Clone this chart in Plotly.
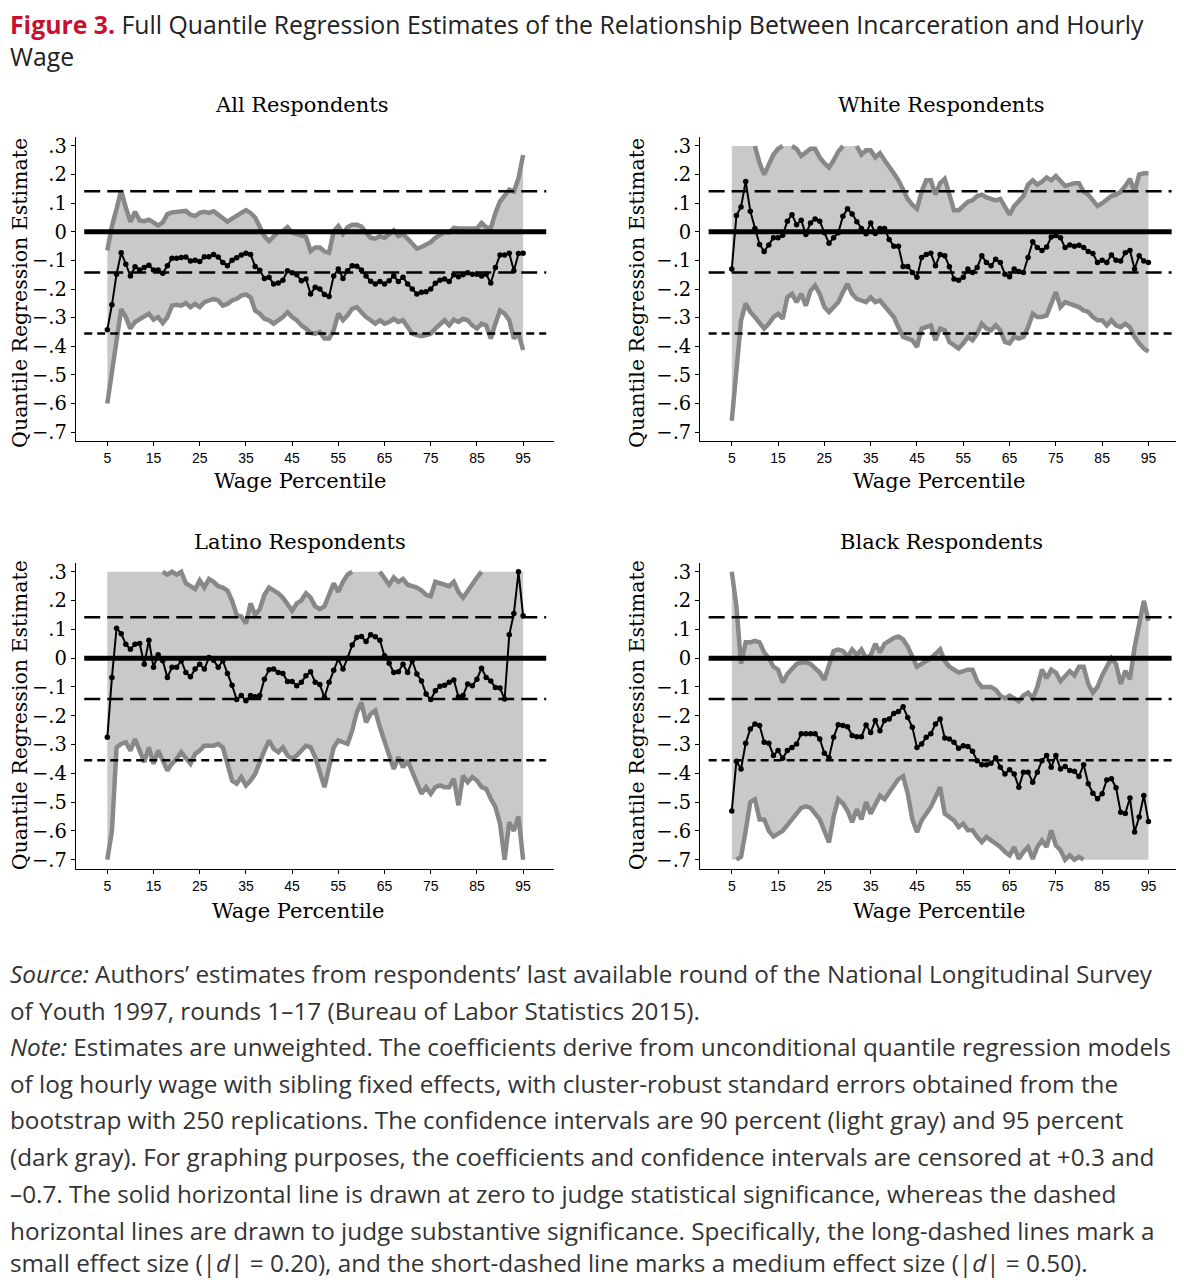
import plotly.graph_objects as go

# ---------------- data ----------------
percentile = list(range(5, 96))
x_ticks = [5, 15, 25, 35, 45, 55, 65, 75, 85, 95]
y_ticks = [0.3, 0.2, 0.1, 0.0, -0.1, -0.2, -0.3, -0.4, -0.5, -0.6, -0.7]
y_tick_text = [".3", ".2", ".1", "0", "\u2212.1", "\u2212.2", "\u2212.3", "\u2212.4",
               "\u2212.5", "\u2212.6", "\u2212.7"]

CENSOR_HI = 0.3
CENSOR_LO = -0.7
SMALL_EFFECT = 0.142     # |d| = 0.20
MEDIUM_EFFECT = -0.355   # |d| = 0.50

all_est = [-0.342, -0.255, -0.148, -0.073, -0.113, -0.154, -0.122, -0.133, -0.125, -0.117,
           -0.133, -0.133, -0.145, -0.119, -0.092, -0.092, -0.090, -0.088, -0.102, -0.099,
           -0.104, -0.087, -0.087, -0.079, -0.088, -0.107, -0.119, -0.099, -0.091, -0.081,
           -0.075, -0.079, -0.121, -0.134, -0.163, -0.159, -0.182, -0.179, -0.169, -0.136,
           -0.143, -0.150, -0.171, -0.165, -0.217, -0.194, -0.200, -0.219, -0.226, -0.154,
           -0.130, -0.163, -0.136, -0.119, -0.120, -0.133, -0.154, -0.173, -0.182, -0.174,
           -0.182, -0.171, -0.154, -0.174, -0.159, -0.182, -0.200, -0.217, -0.211, -0.209,
           -0.200, -0.180, -0.169, -0.165, -0.174, -0.150, -0.157, -0.150, -0.143, -0.148,
           -0.148, -0.154, -0.148, -0.179, -0.125, -0.081, -0.081, -0.075, -0.136, -0.076,
           -0.075]
all_hi = [-0.065, 0.020, 0.080, 0.145, 0.085, 0.035, 0.070, 0.040, 0.037, 0.042,
          0.033, 0.022, 0.033, 0.062, 0.068, 0.070, 0.073, 0.073, 0.060, 0.055,
          0.066, 0.070, 0.066, 0.072, 0.060, 0.046, 0.035, 0.046, 0.054, 0.066,
          0.076, 0.066, 0.050, 0.014, -0.015, -0.032, -0.018, 0.000, 0.002, 0.016,
          -0.003, -0.007, -0.013, -0.018, -0.067, -0.055, -0.055, -0.069, -0.073, 0.002,
          0.020, -0.007, 0.016, 0.025, 0.025, 0.018, -0.003, -0.021, -0.024, -0.015,
          -0.021, -0.009, 0.005, -0.015, -0.009, -0.024, -0.044, -0.059, -0.053, -0.044,
          -0.036, -0.021, -0.009, -0.001, -0.003, 0.014, 0.012, 0.012, 0.012, 0.014,
          0.012, 0.031, 0.016, 0.012, 0.066, 0.106, 0.127, 0.147, 0.141, 0.187,
          0.268]
all_lo = [-0.600, -0.490, -0.370, -0.270, -0.298, -0.338, -0.315, -0.304, -0.296, -0.286,
          -0.307, -0.298, -0.319, -0.298, -0.258, -0.255, -0.258, -0.249, -0.263, -0.252,
          -0.263, -0.246, -0.240, -0.234, -0.240, -0.258, -0.252, -0.240, -0.234, -0.223,
          -0.219, -0.229, -0.275, -0.286, -0.304, -0.309, -0.321, -0.309, -0.298, -0.281,
          -0.298, -0.309, -0.327, -0.338, -0.353, -0.356, -0.350, -0.373, -0.373, -0.344,
          -0.286, -0.309, -0.292, -0.269, -0.263, -0.281, -0.298, -0.309, -0.321, -0.309,
          -0.321, -0.315, -0.304, -0.315, -0.309, -0.333, -0.356, -0.361, -0.365, -0.361,
          -0.356, -0.338, -0.321, -0.309, -0.327, -0.307, -0.315, -0.304, -0.309, -0.327,
          -0.338, -0.321, -0.327, -0.373, -0.321, -0.275, -0.286, -0.309, -0.373, -0.356,
          -0.413]

white_est = [-0.130, 0.057, 0.087, 0.176, 0.072, 0.012, -0.044, -0.069, -0.046, -0.021,
             -0.021, -0.012, 0.037, 0.060, 0.025, 0.040, -0.009, 0.031, 0.045, 0.037,
             -0.003, -0.040, -0.021, -0.003, 0.054, 0.081, 0.062, 0.035, 0.012, -0.007,
             0.031, -0.006, 0.012, 0.012, -0.027, -0.050, -0.050, -0.121, -0.121, -0.142,
             -0.159, -0.090, -0.079, -0.075, -0.119, -0.079, -0.084, -0.122, -0.165, -0.169,
             -0.159, -0.130, -0.142, -0.125, -0.084, -0.107, -0.119, -0.096, -0.107, -0.148,
             -0.157, -0.130, -0.139, -0.142, -0.090, -0.035, -0.055, -0.065, -0.053, -0.018,
             -0.013, -0.021, -0.055, -0.046, -0.050, -0.047, -0.055, -0.069, -0.076, -0.107,
             -0.099, -0.107, -0.081, -0.099, -0.102, -0.073, -0.065, -0.130, -0.084, -0.102,
             -0.107]
white_hi = [0.300, 0.300, 0.300, 0.300, 0.300, 0.300, 0.240, 0.200, 0.240, 0.270,
            0.290, 0.300, 0.300, 0.300, 0.290, 0.265, 0.280, 0.290, 0.290, 0.260,
            0.240, 0.225, 0.250, 0.280, 0.300, 0.300, 0.300, 0.300, 0.270, 0.285,
            0.285, 0.260, 0.275, 0.250, 0.230, 0.205, 0.180, 0.150, 0.115, 0.095,
            0.080, 0.140, 0.180, 0.180, 0.130, 0.170, 0.185, 0.130, 0.075, 0.075,
            0.090, 0.105, 0.110, 0.125, 0.130, 0.120, 0.115, 0.110, 0.115, 0.085,
            0.060, 0.090, 0.105, 0.125, 0.165, 0.180, 0.165, 0.175, 0.190, 0.180,
            0.195, 0.180, 0.160, 0.165, 0.170, 0.170, 0.140, 0.130, 0.110, 0.090,
            0.100, 0.115, 0.125, 0.130, 0.140, 0.160, 0.185, 0.140, 0.200, 0.205,
            0.205]
white_lo = [-0.660, -0.480, -0.310, -0.250, -0.280, -0.298, -0.321, -0.338, -0.321, -0.298,
            -0.286, -0.304, -0.229, -0.217, -0.246, -0.217, -0.258, -0.206, -0.188, -0.217,
            -0.263, -0.280, -0.263, -0.246, -0.211, -0.182, -0.217, -0.234, -0.240, -0.246,
            -0.229, -0.246, -0.240, -0.258, -0.280, -0.298, -0.333, -0.367, -0.373, -0.379,
            -0.402, -0.338, -0.333, -0.327, -0.379, -0.338, -0.344, -0.385, -0.396, -0.408,
            -0.390, -0.367, -0.379, -0.356, -0.321, -0.338, -0.344, -0.327, -0.344, -0.385,
            -0.390, -0.367, -0.373, -0.367, -0.333, -0.286, -0.298, -0.298, -0.292, -0.252,
            -0.211, -0.263, -0.246, -0.252, -0.258, -0.263, -0.275, -0.280, -0.298, -0.309,
            -0.309, -0.327, -0.309, -0.327, -0.333, -0.321, -0.333, -0.367, -0.390, -0.408,
            -0.419]

latino_est = [-0.275, -0.067, 0.104, 0.085, 0.048, 0.031, 0.048, 0.051, -0.021, 0.062,
              -0.032, 0.012, -0.009, -0.067, -0.032, -0.032, -0.009, -0.050, -0.065, -0.038,
              -0.021, -0.038, 0.002, -0.007, -0.032, -0.009, -0.053, -0.094, -0.144, -0.130,
              -0.148, -0.130, -0.134, -0.130, -0.073, -0.040, -0.038, -0.050, -0.053, -0.081,
              -0.081, -0.096, -0.084, -0.061, -0.047, -0.084, -0.092, -0.136, -0.084, -0.042,
              -0.003, -0.038, 0.000, 0.046, 0.072, 0.075, 0.058, 0.081, 0.074, 0.062,
              0.008, -0.018, -0.050, -0.047, -0.021, -0.050, -0.009, -0.055, -0.079, -0.125,
              -0.144, -0.113, -0.098, -0.094, -0.084, -0.076, -0.134, -0.130, -0.090, -0.096,
              -0.073, -0.035, -0.067, -0.079, -0.102, -0.104, -0.142, 0.081, 0.155, 0.300,
              0.147]
latino_hi = [0.300, 0.300, 0.300, 0.300, 0.300, 0.300, 0.300, 0.300, 0.300, 0.300,
             0.300, 0.300, 0.300, 0.290, 0.300, 0.290, 0.300, 0.260, 0.250, 0.240,
             0.270, 0.245, 0.275, 0.265, 0.250, 0.245, 0.235, 0.200, 0.150, 0.145,
             0.120, 0.190, 0.150, 0.170, 0.220, 0.245, 0.235, 0.225, 0.210, 0.185,
             0.165, 0.190, 0.200, 0.225, 0.210, 0.180, 0.170, 0.180, 0.225, 0.260,
             0.230, 0.265, 0.290, 0.300, 0.300, 0.300, 0.300, 0.300, 0.300, 0.300,
             0.280, 0.255, 0.280, 0.265, 0.275, 0.255, 0.250, 0.245, 0.235, 0.220,
             0.215, 0.265, 0.260, 0.255, 0.250, 0.265, 0.230, 0.210, 0.235, 0.260,
             0.280, 0.300, 0.300, 0.300, 0.300, 0.300, 0.300, 0.300, 0.300, 0.300,
             0.300]
latino_lo = [-0.700, -0.600, -0.310, -0.298, -0.292, -0.321, -0.281, -0.321, -0.361, -0.310,
             -0.367, -0.321, -0.356, -0.390, -0.367, -0.350, -0.327, -0.350, -0.367, -0.333,
             -0.321, -0.304, -0.304, -0.304, -0.298, -0.310, -0.367, -0.425, -0.436, -0.413,
             -0.442, -0.425, -0.402, -0.356, -0.321, -0.286, -0.315, -0.327, -0.310, -0.338,
             -0.350, -0.338, -0.321, -0.304, -0.310, -0.344, -0.396, -0.448, -0.379, -0.310,
             -0.286, -0.292, -0.298, -0.252, -0.188, -0.154, -0.223, -0.194, -0.182, -0.240,
             -0.286, -0.338, -0.385, -0.344, -0.379, -0.356, -0.396, -0.436, -0.471, -0.448,
             -0.471, -0.448, -0.442, -0.448, -0.448, -0.419, -0.511, -0.408, -0.431, -0.413,
             -0.425, -0.448, -0.454, -0.488, -0.517, -0.575, -0.700, -0.570, -0.600, -0.550,
             -0.700]

black_est = [-0.531, -0.358, -0.385, -0.296, -0.246, -0.229, -0.234, -0.292, -0.296, -0.338,
             -0.321, -0.348, -0.321, -0.310, -0.298, -0.263, -0.263, -0.263, -0.263, -0.281,
             -0.330, -0.346, -0.275, -0.231, -0.234, -0.238, -0.269, -0.273, -0.273, -0.232,
             -0.258, -0.217, -0.252, -0.217, -0.211, -0.192, -0.185, -0.169, -0.206, -0.240,
             -0.310, -0.298, -0.275, -0.263, -0.229, -0.211, -0.277, -0.281, -0.292, -0.313,
             -0.304, -0.307, -0.323, -0.356, -0.370, -0.370, -0.365, -0.346, -0.379, -0.402,
             -0.388, -0.402, -0.448, -0.396, -0.396, -0.431, -0.396, -0.356, -0.338, -0.379,
             -0.338, -0.385, -0.376, -0.390, -0.393, -0.411, -0.370, -0.436, -0.469, -0.488,
             -0.471, -0.423, -0.419, -0.450, -0.535, -0.540, -0.486, -0.604, -0.552, -0.477,
             -0.567]
black_hi = [0.300, 0.180, -0.020, 0.055, 0.055, 0.060, 0.055, 0.020, 0.000, -0.030,
            -0.040, -0.085, -0.055, -0.040, -0.020, -0.015, -0.015, -0.020, -0.035, -0.050,
            -0.075, -0.030, 0.025, 0.030, 0.025, 0.005, 0.030, 0.010, 0.030, 0.000,
            0.010, 0.050, 0.020, 0.050, 0.060, 0.070, 0.075, 0.065, 0.040, 0.000,
            -0.030, -0.020, -0.010, 0.000, 0.015, 0.030, -0.010, -0.030, -0.040, -0.050,
            -0.045, -0.040, -0.040, -0.080, -0.100, -0.100, -0.100, -0.110, -0.130, -0.140,
            -0.130, -0.140, -0.150, -0.130, -0.120, -0.140, -0.100, -0.040, -0.070, -0.040,
            -0.050, -0.080, -0.060, -0.045, -0.060, -0.030, -0.030, -0.090, -0.120, -0.100,
            -0.060, -0.030, 0.000, -0.020, -0.090, -0.044, -0.073, 0.037, 0.129, 0.199,
            0.129]
black_lo = [-0.700, -0.700, -0.690, -0.600, -0.500, -0.490, -0.560, -0.560, -0.600, -0.620,
            -0.610, -0.600, -0.580, -0.560, -0.545, -0.520, -0.515, -0.520, -0.540, -0.560,
            -0.600, -0.640, -0.550, -0.490, -0.505, -0.530, -0.570, -0.525, -0.560, -0.500,
            -0.540, -0.510, -0.478, -0.490, -0.465, -0.440, -0.420, -0.410, -0.470, -0.560,
            -0.604, -0.564, -0.540, -0.517, -0.483, -0.448, -0.540, -0.552, -0.564, -0.587,
            -0.575, -0.598, -0.598, -0.621, -0.639, -0.621, -0.633, -0.644, -0.656, -0.673,
            -0.685, -0.656, -0.697, -0.673, -0.656, -0.697, -0.656, -0.633, -0.656, -0.598,
            -0.650, -0.667, -0.700, -0.685, -0.700, -0.690, -0.700, -0.700, -0.700, -0.700,
            -0.700, -0.700, -0.700, -0.700, -0.700, -0.700, -0.700, -0.700, -0.700, -0.700,
            -0.700]

panel_titles = ["All Respondents", "White Respondents", "Latino Respondents", "Black Respondents"]
y_title = "Quantile Regression Estimate"
x_title = "Wage Percentile"

# ---------------- layout helpers ----------------
PAGE_W, PAGE_H = 1184, 1280
OFF = 8                      # default page margin around the plot div
W, H = PAGE_W - OFF, PAGE_H - OFF
SERIF = "DejaVu Serif"
SANS = "Open Sans"
FILL = "#c9c9c9"
EDGE = "#888888"


def fx(p):
    return (p - OFF) / W


def fy(p):
    return 1 - (p - OFF) / H


panels = [
    dict(est=all_est, hi=all_hi, lo=all_lo, xpx=(75.9, 554.3), ypx=(135.6, 440.7),
         tx=302, ty=103, ax=20, ay=292, xty=481),
    dict(est=white_est, hi=white_hi, lo=white_lo, xpx=(700.3, 1179.7), ypx=(135.6, 440.7),
         tx=941, ty=103, ax=637, ay=292, xty=481),
    dict(est=latino_est, hi=latino_hi, lo=latino_lo, xpx=(75.9, 554.3), ypx=(563.0, 870.0),
         tx=300, ty=542, ax=20, ay=716, xty=913),
    dict(est=black_est, hi=black_hi, lo=black_lo, xpx=(700.3, 1179.7), ypx=(563.0, 870.0),
         tx=941, ty=542, ax=637, ay=716, xty=913),
]


def edge_mask(vals, censored):
    out = []
    n = len(vals)
    for i, v in enumerate(vals):
        keep = False
        for j in (i - 1, i, i + 1):
            if 0 <= j < n and abs(vals[j] - censored) > 1e-9:
                keep = True
        out.append(v if keep else None)
    return out


fig = go.Figure()
annotations = []
layout_axes = {}

for k, (pn, title) in enumerate(zip(panels, panel_titles)):
    idx = "" if k == 0 else str(k + 1)
    xa, ya = "x" + idx, "y" + idx
    common = dict(xaxis=xa, yaxis=ya, showlegend=False, hoverinfo="skip")

    fig.add_trace(go.Scatter(x=percentile, y=pn["lo"], mode="lines",
                             line=dict(width=0, color=FILL), **common))
    fig.add_trace(go.Scatter(x=percentile, y=pn["hi"], mode="lines", fill="tonexty",
                             fillcolor=FILL, line=dict(width=0, color=FILL), **common))
    fig.add_trace(go.Scatter(x=percentile, y=edge_mask(pn["hi"], CENSOR_HI), mode="lines",
                             line=dict(width=4.5, color=EDGE), connectgaps=False, **common))
    fig.add_trace(go.Scatter(x=percentile, y=edge_mask(pn["lo"], CENSOR_LO), mode="lines",
                             line=dict(width=4.5, color=EDGE), connectgaps=False, **common))
    # reference lines
    fig.add_trace(go.Scatter(x=[0, 100], y=[0, 0], mode="lines",
                             line=dict(width=5, color="black"), **common))
    for v in (SMALL_EFFECT, -SMALL_EFFECT):
        fig.add_trace(go.Scatter(x=[0, 100], y=[v, v], mode="lines",
                                 line=dict(width=2.5, color="black", dash="16px,7px"), **common))
    fig.add_trace(go.Scatter(x=[0, 100], y=[MEDIUM_EFFECT, MEDIUM_EFFECT], mode="lines",
                             line=dict(width=2.5, color="black", dash="8px,5px"), **common))
    # estimates
    fig.add_trace(go.Scatter(x=percentile, y=pn["est"], mode="lines+markers",
                             line=dict(width=2, color="black"),
                             marker=dict(size=5.5, color="black"), **common))

    layout_axes["xaxis" + idx] = dict(
        domain=[fx(pn["xpx"][0]), fx(pn["xpx"][1])], anchor=ya,
        range=[-1.8, 101.75], tickmode="array", tickvals=x_ticks,
        ticktext=[str(t) for t in x_ticks],
        showline=True, linecolor="black", linewidth=1.3, ticks="outside",
        ticklen=4, tickwidth=1, tickcolor="black", showgrid=False, zeroline=False,
        tickfont=dict(family="Liberation Sans", size=14, color="black"), fixedrange=True)
    layout_axes["yaxis" + idx] = dict(
        domain=[fy(pn["ypx"][1]), fy(pn["ypx"][0])], anchor=xa,
        range=[-0.731, 0.331], tickmode="array", tickvals=y_ticks, ticktext=y_tick_text,
        showline=True, linecolor="black", linewidth=1.3, ticks="outside",
        ticklen=4, tickwidth=1, tickcolor="black", showgrid=False, zeroline=False,
        tickfont=dict(family=SERIF, size=19.5, color="black"), fixedrange=True)

    annotations.append(dict(text=title, x=fx(pn["tx"]), y=fy(pn["ty"]), xref="paper",
                            yref="paper", xanchor="center", yanchor="middle", showarrow=False,
                            font=dict(family=SERIF, size=21, color="black")))
    annotations.append(dict(text=y_title, x=fx(pn["ax"]), y=fy(pn["ay"]), xref="paper",
                            yref="paper", xanchor="center", yanchor="middle", showarrow=False,
                            textangle=-90, font=dict(family=SERIF, size=20.5, color="black")))
    annotations.append(dict(text=x_title, x=fx(pn["tx"] - 2), y=fy(pn["xty"]), xref="paper",
                            yref="paper", xanchor="center", yanchor="middle", showarrow=False,
                            font=dict(family=SERIF, size=21, color="black")))

# figure title
title_lines = [
    ("<span style='color:#c8102e'><b>Figure 3.</b></span> Full Quantile Regression Estimates of the "
     "Relationship Between Incarceration and Hourly", 22),
    ("Wage", 54),
]
for txt, ypos in title_lines:
    annotations.append(dict(text=txt, x=0, y=fy(ypos), xref="paper", yref="paper",
                            xanchor="left", yanchor="middle", showarrow=False,
                            font=dict(family=SANS, size=24.8, color="#222222")))

note_lines = [
    ("<i>Source:</i> Authors\u2019 estimates from respondents\u2019 last available round of the "
     "National Longitudinal Survey", 975),
    ("of Youth 1997, rounds 1\u201317 (Bureau of Labor Statistics 2015).", 1012),
    ("<i>Note:</i> Estimates are unweighted. The coefficients derive from unconditional quantile "
     "regression models", 1049),
    ("of log hourly wage with sibling fixed effects, with cluster-robust standard errors "
     "obtained from the", 1086),
    ("bootstrap with 250 replications. The confidence intervals are 90 percent (light gray) "
     "and 95 percent", 1122),
    ("(dark gray). For graphing purposes, the coefficients and confidence intervals are "
     "censored at +0.3 and", 1159),
    ("\u20130.7. The solid horizontal line is drawn at zero to judge statistical significance, "
     "whereas the dashed", 1196),
    ("horizontal lines are drawn to judge substantive significance. Specifically, the "
     "long-dashed lines mark a", 1233),
    ("small effect size (|<i>d</i>| = 0.20), and the short-dashed line marks a medium effect "
     "size (|<i>d</i>| = 0.50).", 1265),
]
for txt, ypos in note_lines:
    annotations.append(dict(text=txt, x=0, y=fy(ypos), xref="paper", yref="paper",
                            xanchor="left", yanchor="middle", showarrow=False,
                            font=dict(family=SANS, size=24.3, color="#333333")))

fig.update_layout(width=W, height=H, margin=dict(l=0, r=0, t=0, b=0),
                  plot_bgcolor="white", paper_bgcolor="white",
                  annotations=annotations, showlegend=False, **layout_axes)

fig.write_html("out.html")
